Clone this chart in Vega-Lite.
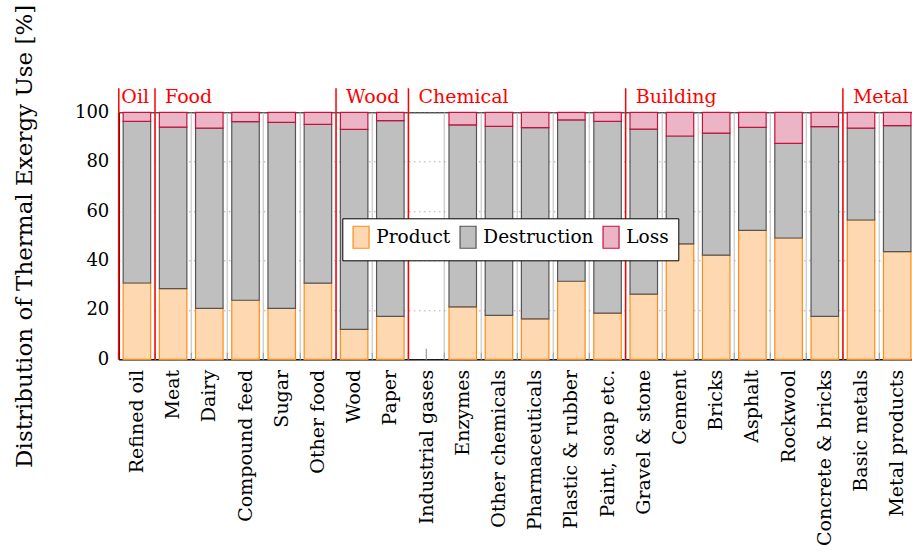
{
  "$schema": "https://vega.github.io/schema/vega-lite/v6.json",
  "autosize": {"type": "none"},
  "width": 796.5,
  "height": 247,
  "padding": {"left": 118.8, "top": 112.3, "right": -3.3, "bottom": 191.7},
  "background": "white",
  "config": {
    "font": "DejaVu Serif",
    "view": {"stroke": "black", "strokeWidth": 1},
    "legend": {
      "orient": "none",
      "legendX": 223.5,
      "legendY": 106,
      "direction": "horizontal",
      "strokeColor": "black",
      "fillColor": "white",
      "padding": 9.5,
      "cornerRadius": 0,
      "symbolSize": 256,
      "symbolStrokeWidth": 1.2,
      "symbolOpacity": 1,
      "labelFontSize": 18.5,
      "labelColor": "black",
      "labelOffset": 6,
      "columnPadding": 6
    }
  },
  "datasets": {
    "bars": [
      {"c": "Refined oil", "type": "Product", "v": 30.9, "k": 1},
      {"c": "Refined oil", "type": "Destruction", "v": 65.4, "k": 2},
      {"c": "Refined oil", "type": "Loss", "v": 3.7, "k": 3},
      {"c": "Meat", "type": "Product", "v": 28.6, "k": 1},
      {"c": "Meat", "type": "Destruction", "v": 65.4, "k": 2},
      {"c": "Meat", "type": "Loss", "v": 6.0, "k": 3},
      {"c": "Dairy", "type": "Product", "v": 20.6, "k": 1},
      {"c": "Dairy", "type": "Destruction", "v": 73.0, "k": 2},
      {"c": "Dairy", "type": "Loss", "v": 6.4, "k": 3},
      {"c": "Compound feed", "type": "Product", "v": 23.9, "k": 1},
      {"c": "Compound feed", "type": "Destruction", "v": 72.3, "k": 2},
      {"c": "Compound feed", "type": "Loss", "v": 3.8, "k": 3},
      {"c": "Sugar", "type": "Product", "v": 20.6, "k": 1},
      {"c": "Sugar", "type": "Destruction", "v": 75.3, "k": 2},
      {"c": "Sugar", "type": "Loss", "v": 4.1, "k": 3},
      {"c": "Other food", "type": "Product", "v": 30.8, "k": 1},
      {"c": "Other food", "type": "Destruction", "v": 64.3, "k": 2},
      {"c": "Other food", "type": "Loss", "v": 4.9, "k": 3},
      {"c": "Wood", "type": "Product", "v": 12.1, "k": 1},
      {"c": "Wood", "type": "Destruction", "v": 81.0, "k": 2},
      {"c": "Wood", "type": "Loss", "v": 6.9, "k": 3},
      {"c": "Paper", "type": "Product", "v": 17.4, "k": 1},
      {"c": "Paper", "type": "Destruction", "v": 79.2, "k": 2},
      {"c": "Paper", "type": "Loss", "v": 3.4, "k": 3},
      {"c": "Enzymes", "type": "Product", "v": 21.2, "k": 1},
      {"c": "Enzymes", "type": "Destruction", "v": 73.7, "k": 2},
      {"c": "Enzymes", "type": "Loss", "v": 5.1, "k": 3},
      {"c": "Other chemicals", "type": "Product", "v": 17.8, "k": 1},
      {"c": "Other chemicals", "type": "Destruction", "v": 76.5, "k": 2},
      {"c": "Other chemicals", "type": "Loss", "v": 5.7, "k": 3},
      {"c": "Pharmaceuticals", "type": "Product", "v": 16.4, "k": 1},
      {"c": "Pharmaceuticals", "type": "Destruction", "v": 77.4, "k": 2},
      {"c": "Pharmaceuticals", "type": "Loss", "v": 6.2, "k": 3},
      {"c": "Plastic & rubber", "type": "Product", "v": 31.6, "k": 1},
      {"c": "Plastic & rubber", "type": "Destruction", "v": 65.3, "k": 2},
      {"c": "Plastic & rubber", "type": "Loss", "v": 3.1, "k": 3},
      {"c": "Paint, soap etc.", "type": "Product", "v": 18.7, "k": 1},
      {"c": "Paint, soap etc.", "type": "Destruction", "v": 77.6, "k": 2},
      {"c": "Paint, soap etc.", "type": "Loss", "v": 3.7, "k": 3},
      {"c": "Gravel & stone", "type": "Product", "v": 26.4, "k": 1},
      {"c": "Gravel & stone", "type": "Destruction", "v": 66.8, "k": 2},
      {"c": "Gravel & stone", "type": "Loss", "v": 6.8, "k": 3},
      {"c": "Cement", "type": "Product", "v": 46.7, "k": 1},
      {"c": "Cement", "type": "Destruction", "v": 43.7, "k": 2},
      {"c": "Cement", "type": "Loss", "v": 9.6, "k": 3},
      {"c": "Bricks", "type": "Product", "v": 42.2, "k": 1},
      {"c": "Bricks", "type": "Destruction", "v": 49.4, "k": 2},
      {"c": "Bricks", "type": "Loss", "v": 8.4, "k": 3},
      {"c": "Asphalt", "type": "Product", "v": 52.2, "k": 1},
      {"c": "Asphalt", "type": "Destruction", "v": 41.7, "k": 2},
      {"c": "Asphalt", "type": "Loss", "v": 6.1, "k": 3},
      {"c": "Rockwool", "type": "Product", "v": 49.1, "k": 1},
      {"c": "Rockwool", "type": "Destruction", "v": 38.3, "k": 2},
      {"c": "Rockwool", "type": "Loss", "v": 12.6, "k": 3},
      {"c": "Concrete & bricks", "type": "Product", "v": 17.4, "k": 1},
      {"c": "Concrete & bricks", "type": "Destruction", "v": 76.8, "k": 2},
      {"c": "Concrete & bricks", "type": "Loss", "v": 5.8, "k": 3},
      {"c": "Basic metals", "type": "Product", "v": 56.4, "k": 1},
      {"c": "Basic metals", "type": "Destruction", "v": 37.2, "k": 2},
      {"c": "Basic metals", "type": "Loss", "v": 6.4, "k": 3},
      {"c": "Metal products", "type": "Product", "v": 43.6, "k": 1},
      {"c": "Metal products", "type": "Destruction", "v": 51.0, "k": 2},
      {"c": "Metal products", "type": "Loss", "v": 5.4, "k": 3}
    ],
    "groups": [
      {"c": "Refined oil", "g": "Oil"},
      {"c": "Meat", "g": "Food"},
      {"c": "Wood", "g": "Wood"},
      {"c": "Industrial gases", "g": "Chemical"},
      {"c": "Gravel & stone", "g": "Building"},
      {"c": "Basic metals", "g": "Metal"}
    ]
  },
  "resolve": {"axis": {"x": "independent"}},
  "layer": [
    {
      "data": {"name": "bars"},
      "mark": {"type": "bar", "strokeWidth": 1.2},
      "encoding": {
        "x": {
          "field": "c",
          "type": "nominal",
          "scale": {
            "domain": ["Refined oil", "Meat", "Dairy", "Compound feed", "Sugar", "Other food", "Wood", "Paper", "Industrial gases", "Enzymes", "Other chemicals", "Pharmaceuticals", "Plastic & rubber", "Paint, soap etc.", "Gravel & stone", "Cement", "Bricks", "Asphalt", "Rockwool", "Concrete & bricks", "Basic metals", "Metal products"],
            "paddingInner": 0.24,
            "paddingOuter": 0.12
          },
          "axis": {
            "title": null,
            "labelAngle": -90,
            "labelFontSize": 19,
            "labelColor": "black",
            "labelPadding": 10,
            "labelLimit": 300,
            "ticks": false,
            "grid": false,
            "domainColor": "black",
            "domainWidth": 1
          }
        },
        "y": {
          "field": "v",
          "type": "quantitative",
          "stack": "zero",
          "scale": {"domain": [0, 100], "nice": false},
          "axis": {
            "title": "Distribution of Thermal Exergy Use [%]",
            "titleFontSize": 23,
            "titleFontWeight": "normal",
            "titleColor": "black",
            "titlePadding": 38,
            "values": [0, 10, 20, 30, 40, 50, 60, 70, 80, 90, 100],
            "labelExpr": "datum.value % 20 == 0 ? datum.label : ''",
            "labelFontSize": 18,
            "labelColor": "black",
            "labelPadding": 10,
            "ticks": false,
            "grid": true,
            "gridDash": [1, 4],
            "gridColor": "#888888",
            "gridWidth": 1,
            "domainColor": "black"
          }
        },
        "fill": {
          "field": "type",
          "type": "nominal",
          "scale": {"domain": ["Product", "Destruction", "Loss"], "range": ["#fdd8b0", "#bfbfbf", "#ebb5c6"]},
          "legend": {
            "title": null,
            "encode": {
              "symbols": {
                "update": {
                  "shape": {"value": "M-1,-1.375H1V1.375H-1Z"},
                  "size": {"value": 256},
                  "stroke": {"scale": "stroke", "field": "value"},
                  "strokeWidth": {"value": 1.2},
                  "opacity": {"value": 1}
                }
              }
            }
          }
        },
        "stroke": {
          "field": "type",
          "type": "nominal",
          "scale": {"domain": ["Product", "Destruction", "Loss"], "range": ["#ff8c1a", "#555555", "#c8103e"]},
          "legend": null
        },
        "order": {"field": "k"}
      }
    },
    {
      "data": {"name": "groups"},
      "mark": {"type": "rule", "color": "#ff0000", "strokeWidth": 1.5},
      "encoding": {
        "x": {
          "field": "c",
          "type": "nominal",
          "bandPosition": -0.1579,
          "axis": {
            "orient": "bottom",
            "title": null,
            "labels": false,
            "domain": false,
            "ticks": true,
            "tickSize": -7,
            "tickColor": "#999999",
            "grid": true,
            "gridColor": "#d0d0d0",
            "gridWidth": 1.5,
            "bandPosition": -0.1579
          }
        },
        "y": {"datum": 0},
        "y2": {"datum": 109.7}
      }
    },
    {
      "data": {"name": "groups"},
      "transform": [{"filter": "datum.g != 'Oil'"}],
      "mark": {"type": "text", "align": "left", "baseline": "alphabetic", "dx": 10, "fontSize": 19, "color": "#ff0000"},
      "encoding": {
        "x": {
          "field": "c",
          "type": "nominal",
          "bandPosition": -0.1579,
          "axis": {
            "orient": "bottom",
            "title": null,
            "labels": false,
            "domain": false,
            "ticks": true,
            "tickSize": -11,
            "tickColor": "#999999",
            "tickWidth": 1.2,
            "grid": false,
            "bandPosition": 0.5
          }
        },
        "y": {"datum": 103.8},
        "text": {"field": "g"}
      }
    },
    {
      "data": {"name": "groups"},
      "transform": [{"filter": "datum.g == 'Oil'"}],
      "mark": {"type": "text", "align": "left", "baseline": "alphabetic", "dx": 2.5, "fontSize": 19, "color": "#ff0000"},
      "encoding": {
        "x": {"field": "c", "type": "nominal", "bandPosition": -0.1579, "axis": null},
        "y": {"datum": 103.8},
        "text": {"field": "g"}
      }
    }
  ]
}
